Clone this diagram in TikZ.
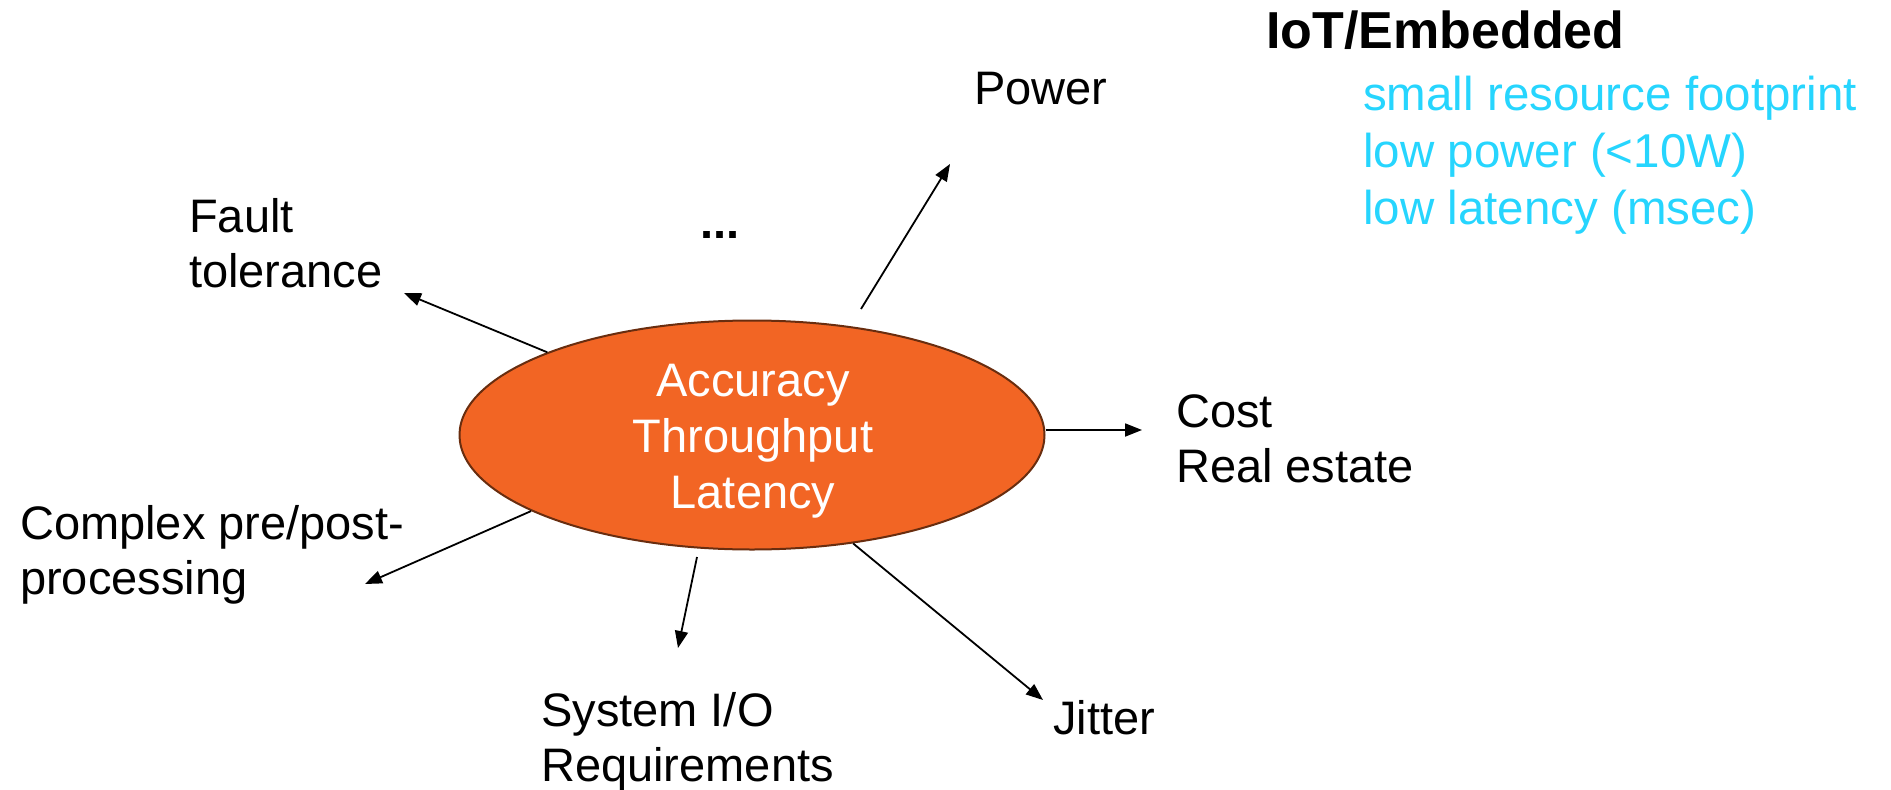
\documentclass[tikz,border=0pt]{standalone}
\usepackage{fontspec}
\setmainfont{Liberation Sans}
\usetikzlibrary{arrows.meta,shapes.geometric}
\definecolor{orangefill}{RGB}{242,101,36}
\definecolor{brownline}{RGB}{105,45,15}
\definecolor{iotcyan}{RGB}{38,213,254}
\begin{document}
\begin{tikzpicture}[x=1pt,y=-1pt,
  lbl/.style={inner sep=0pt, anchor=base west, align=left, font=\fontsize{47}{55}\selectfont},
  arr/.style={line width=1.8pt, -{Triangle[length=17pt,width=13pt]}},
  core/.style={ellipse, draw=brownline, line width=2pt, fill=orangefill, minimum width=585pt, minimum height=229pt, inner sep=0pt}
  ]
\useasboundingbox (0,0) rectangle (1891,790);
\node[core] (e) at (752,435) {};
\node[text=white, align=center, anchor=base, inner sep=0pt, font=\fontsize{47}{56}\selectfont] (etext) at (753,508) {Accuracy\\Throughput\\Latency};
\node[lbl] (power) at (974,104) {Power};
\node[lbl] (fault) at (189,287) {Fault\\tolerance};
\node[lbl, anchor=base, font=\fontsize{47}{55}\selectfont\bfseries] (dots) at (720,238) {...};
\node[lbl] (cost) at (1176,482) {Cost\\Real estate};
\node[lbl] (complex) at (20,594) {Complex pre/post-\\processing};
\node[lbl] (sysio) at (541,781) {System I/O\\Requirements};
\node[lbl] (jitter) at (1053,734) {Jitter};
\node[lbl, font=\fontsize{52}{60}\selectfont\bfseries] (iot) at (1266,48) {IoT/Embedded};
\node[lbl, text=iotcyan, font=\fontsize{47.5}{57}\selectfont] (iotlist) at (1363,224) {small resource footprint\\low power (<10W)\\low latency (msec)};
\coordinate (powertail) at (861,309);
\coordinate (powertip) at (950,164);
\coordinate (faulttip) at (404,293);
\coordinate (costtip) at (1142,430);
\coordinate (complextip) at (365,584);
\coordinate (iotail) at (697,557);
\coordinate (iotip) at (678,648);
\coordinate (jittertip) at (1043,700);
\draw[arr] (powertail) -- (powertip);
\draw[arr] (e.158) -- (faulttip);
\draw[arr] (e.east |- costtip) -- (costtip);
\draw[arr] (e.199) -- (complextip);
\draw[arr] (iotail) -- (iotip);
\draw[arr] (e.313.4) -- (jittertip);
\end{tikzpicture}
\end{document}
